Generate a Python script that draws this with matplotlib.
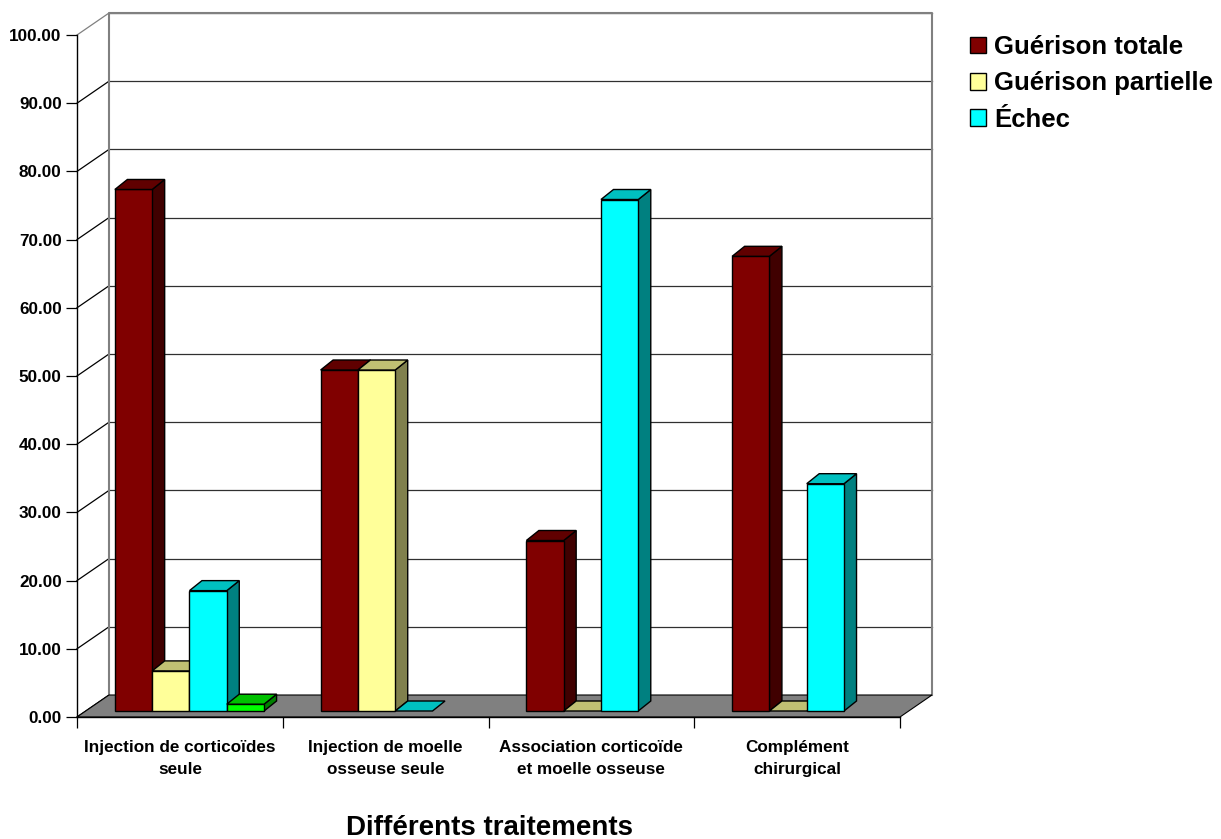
import numpy as np
import matplotlib.pyplot as plt
from matplotlib.patches import Polygon, Patch

plt.rcParams["font.family"] = ["Liberation Sans", "DejaVu Sans"]
plt.rcParams["font.weight"] = "bold"

categories = ["Injection de corticoïdes\nseule", "Injection de moelle\nosseuse seule",
              "Association corticoïde\net moelle osseuse", "Complément\nchirurgical"]
series = ["Guérison totale", "Guérison partielle", "Échec"]
guerison_totale = [76.47, 50.00, 25.00, 66.67]
guerison_partielle = [5.88, 50.00, 0.00, 0.00]
echec = [17.65, 0.00, 75.00, 33.33]
quatrieme = [1.00, np.nan, np.nan, np.nan]
y_ticks = np.arange(0, 101, 10)

FRONT = ["#800000", "#FFFF99", "#00FFFF", "#00FF00"]
TOP = ["#600000", "#C0C073", "#00C0C0", "#00C000"]
SIDE = ["#400000", "#80804D", "#008080", "#008000"]

W, H, DPI = 1221, 839, 100
fig = plt.figure(figsize=(W / DPI, H / DPI), dpi=DPI)
L, R, B, T = 77, 900, 717, 35
ax = fig.add_axes([L / W, 1 - B / H, (R - L) / W, (B - T) / H])
ax.set_xlim(0, 4)
ax.set_ylim(0, 100)
px_x = (R - L) / 4
px_y = (B - T) / 100


def off(dx, dy):
    return dx / px_x, dy / px_y


WX, WY = off(32, 22)     # depth of the floor / back wall
FX, FY = off(9.6, 6)     # front plane of the columns
DX, DY = off(12.5, 10)   # column depth
bw = 37.3 / px_x
pad = (1 - 4 * bw) / 2


def poly(pts, fc, ec="black", lw=1.0, z=3):
    ax.add_patch(Polygon(pts, closed=True, facecolor=fc, edgecolor=ec,
                         linewidth=lw, zorder=z, clip_on=False, joinstyle="miter"))


# floor and walls
poly([(0, 0), (4, 0), (4 + WX, WY), (WX, WY)], "#808080", ec="black", lw=0.8, z=1)
for v in y_ticks[1:]:
    ax.plot([WX, 4 + WX], [v + WY, v + WY], color="#303030", lw=0.9, zorder=0.5,
            clip_on=False)
for v in y_ticks:
    ax.plot([0, WX], [v, v + WY], color="black" if v < 100 else "#808080",
            lw=0.9, zorder=0.5, clip_on=False)
ax.plot([WX, WX, 4 + WX, 4 + WX], [WY, 100 + WY, 100 + WY, WY], color="#808080",
        lw=1.5, zorder=0.6, clip_on=False)

# columns, drawn left to right so nearer faces overlap correctly
values = [guerison_totale, guerison_partielle, echec, quatrieme]
for g in range(len(categories)):
    for i, vals in enumerate(values):
        v = vals[g]
        if np.isnan(v):
            continue
        x0 = g + pad + i * bw + FX
        x1 = x0 + bw
        y0, y1 = FY, FY + v
        z = 3 + g * 10 + i
        if v > 0:
            poly([(x1, y0), (x1 + DX, y0 + DY), (x1 + DX, y1 + DY), (x1, y1)], SIDE[i], z=z)
            poly([(x0, y0), (x1, y0), (x1, y1), (x0, y1)], FRONT[i], z=z)
        poly([(x0, y1), (x1, y1), (x1 + DX, y1 + DY), (x0 + DX, y1 + DY)], TOP[i], z=z)

# axes
for s in ["top", "right"]:
    ax.spines[s].set_visible(False)
ax.spines["left"].set_linewidth(1.0)
ax.spines["bottom"].set_linewidth(1.0)
ax.spines["bottom"].set_zorder(2)
ax.set_yticks(y_ticks, [f"{v:.2f}" for v in y_ticks])
ax.tick_params(axis="y", length=8, width=0.9, pad=3, labelsize=12.3)
ax.set_xticks(range(5), [])
ax.tick_params(axis="x", which="major", length=8, width=0.9)
ax.set_xticks(np.arange(4) + 0.5, categories, minor=True)
ax.tick_params(axis="x", which="minor", length=0, pad=16.5, labelsize=12.3)
for lbl in ax.get_xticklabels(minor=True):
    lbl.set_linespacing(1.62)
ax.set_facecolor("none")

fig.text(489 / W, 1 - 828 / H, "Différents traitements", ha="center", va="center",
         fontsize=20, fontweight="bold")

handles = [Patch(facecolor=FRONT[i], edgecolor="black", linewidth=1.0) for i in range(3)]
fig.legend(handles, series, loc="upper left", bbox_to_anchor=(970 / W, 1 - 35 / H),
           frameon=False, prop={"size": 18.5, "weight": "bold"}, handlelength=0.62,
           handleheight=0.62, handletextpad=0.32, labelspacing=0.48, borderaxespad=0,
           borderpad=0)

fig.savefig("out.png", dpi=DPI)
